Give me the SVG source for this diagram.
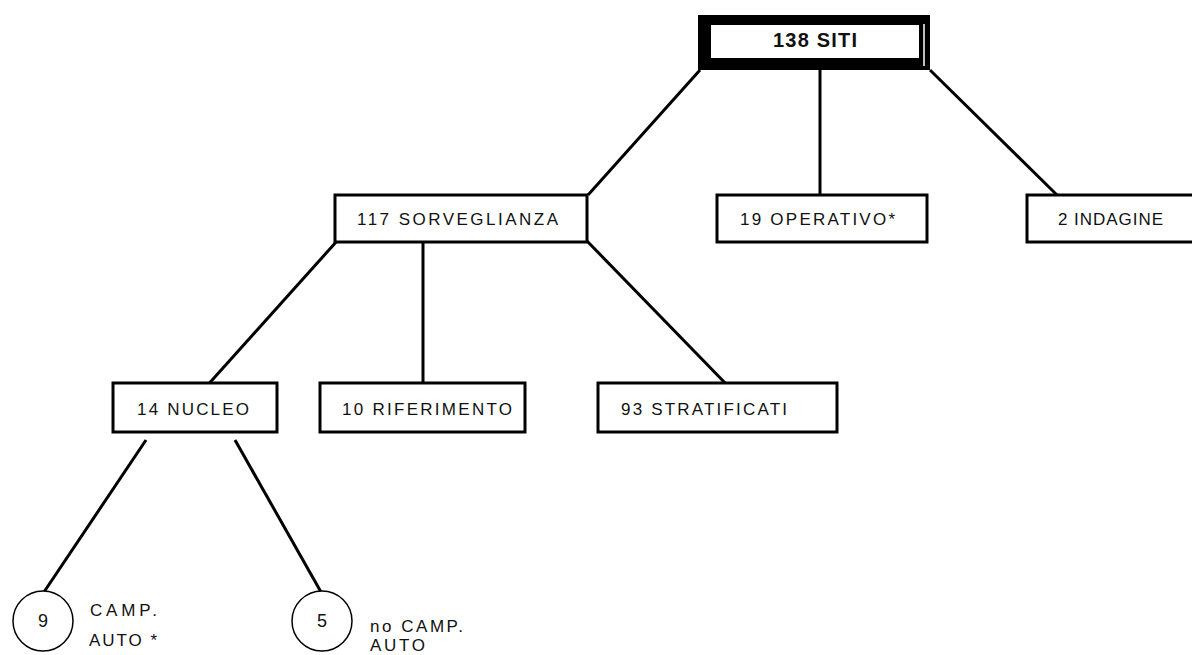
<svg xmlns="http://www.w3.org/2000/svg" width="1192" height="655" viewBox="0 0 1192 655">
<style>
.box{fill:#fff;stroke:#000;stroke-width:3}
.ln{stroke:#000;stroke-width:3;fill:none}
.t{font-family:"Liberation Sans",Arial,sans-serif;font-size:17px;fill:#111}
.d{font-family:"Liberation Sans",Arial,sans-serif;font-size:18px;fill:#111}
.c{fill:#fff;stroke:#000;stroke-width:1.5}
</style>
<rect width="1192" height="655" fill="#fff"/>
<g id="connectors">
<line class="ln" x1="700" y1="70" x2="588" y2="195"/>
<line class="ln" x1="820" y1="70" x2="820" y2="195"/>
<line class="ln" x1="930" y1="70" x2="1057" y2="195"/>
<line class="ln" x1="337" y1="241" x2="205" y2="388"/>
<line class="ln" x1="423" y1="241" x2="423" y2="383"/>
<line class="ln" x1="587" y1="241" x2="730" y2="388"/>
<line class="ln" x1="146" y1="440" x2="44" y2="592"/>
<line class="ln" x1="235" y1="440" x2="321" y2="592"/>
</g>
<g id="n138">
<rect x="698" y="15" width="232" height="55" fill="#000"/>
<rect x="711" y="25" width="208" height="33" fill="#fff"/>
<line x1="924" y1="24" x2="924" y2="66" stroke="#fff" stroke-width="1.5"/>
<text x="773" y="47" class="t" style="font-size:20px;font-weight:bold" textLength="84" lengthAdjust="spacing">138 SITI</text>
</g>
<g id="n117">
<rect class="box" x="335" y="195" width="252" height="47"/>
<text x="357" y="225" class="t" textLength="201" lengthAdjust="spacing">117 SORVEGLIANZA</text>
</g>
<g id="n19">
<rect class="box" x="717" y="195" width="210" height="47"/>
<text x="740" y="225" class="t" textLength="155" lengthAdjust="spacing">19 OPERATIVO*</text>
</g>
<g id="n2">
<rect class="box" x="1027" y="195" width="170" height="47"/>
<text x="1058" y="225" class="t" textLength="105" lengthAdjust="spacing">2 INDAGINE</text>
</g>
<g id="n14">
<rect class="box" x="113" y="383" width="164" height="49"/>
<text x="137" y="415" class="t" textLength="112" lengthAdjust="spacing">14 NUCLEO</text>
</g>
<g id="n10">
<rect class="box" x="320" y="383" width="205" height="49"/>
<text x="342" y="415" class="t" textLength="170" lengthAdjust="spacing">10 RIFERIMENTO</text>
</g>
<g id="n93">
<rect class="box" x="598" y="383" width="239" height="49"/>
<text x="621" y="415" class="t" textLength="166" lengthAdjust="spacing">93 STRATIFICATI</text>
</g>
<g id="n9">
<circle class="c" cx="43" cy="621" r="30"/>
<text x="43" y="627" class="d" text-anchor="middle">9</text>
<text x="90" y="616" class="t" textLength="67" lengthAdjust="spacing">CAMP.</text>
<text x="89" y="646" class="t" textLength="68" lengthAdjust="spacing">AUTO *</text>
</g>
<g id="n5">
<circle class="c" cx="322" cy="621" r="30"/>
<text x="322" y="627" class="d" text-anchor="middle">5</text>
<text x="370" y="632" class="t" textLength="93" lengthAdjust="spacing">no CAMP.</text>
<text x="370" y="651" class="t" textLength="55" lengthAdjust="spacing">AUTO</text>
</g>
</svg>
